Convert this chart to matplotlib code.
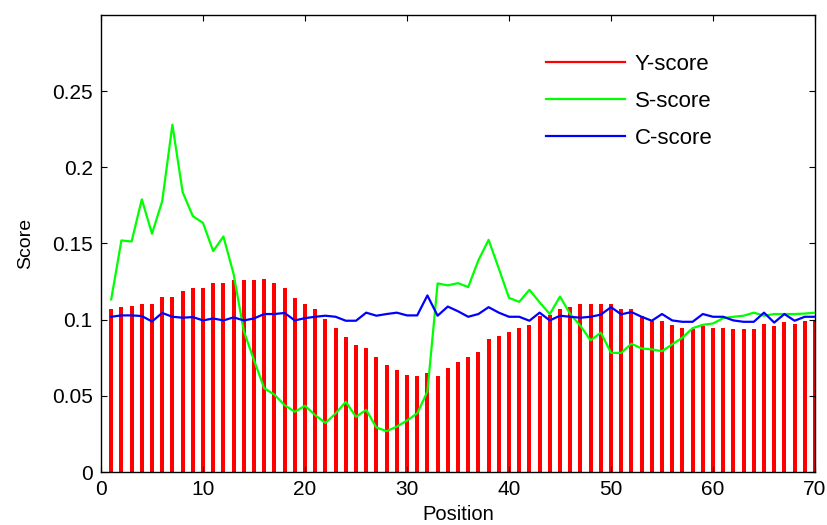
import matplotlib
matplotlib.use("Agg")
import matplotlib.pyplot as plt
import numpy as np

plt.rcParams['font.family'] = ['Liberation Sans', 'DejaVu Sans']

positions = list(range(1, 71))

y_score = [0.107, 0.108, 0.109, 0.110, 0.1105, 0.115, 0.115, 0.1185, 0.121, 0.121,
           0.124, 0.124, 0.126, 0.126, 0.126, 0.127, 0.124, 0.121, 0.114, 0.1105,
           0.107, 0.1006, 0.0946, 0.0886, 0.0833, 0.0813, 0.0754, 0.0705, 0.0672, 0.064,
           0.0628, 0.0652, 0.0628, 0.0685, 0.0725, 0.0752, 0.079, 0.087, 0.0895, 0.092,
           0.0946, 0.0966, 0.1026, 0.1033, 0.107, 0.1086, 0.1105, 0.110, 0.110, 0.1105,
           0.107, 0.107, 0.1026, 0.0993, 0.0993, 0.0966, 0.0946, 0.094, 0.096, 0.0946,
           0.0946, 0.094, 0.094, 0.094, 0.0973, 0.096, 0.0986, 0.0973, 0.0993, 0.100]

s_score = [0.1133, 0.152, 0.1513, 0.179, 0.1564, 0.1778, 0.228, 0.1838, 0.168, 0.1635,
           0.145, 0.1546, 0.130, 0.0926, 0.0734, 0.055, 0.0508, 0.0439, 0.0395, 0.0435,
           0.0373, 0.0322, 0.0384, 0.0461, 0.0362, 0.0408, 0.0292, 0.0268, 0.0298, 0.0338,
           0.0385, 0.0528, 0.1238, 0.1225, 0.124, 0.1214, 0.139, 0.1524, 0.1336, 0.1143,
           0.1117, 0.1196, 0.1114, 0.1037, 0.1152, 0.1037, 0.096, 0.0864, 0.0915, 0.0782,
           0.0782, 0.0842, 0.0811, 0.0805, 0.0793, 0.0838, 0.0882, 0.0944, 0.0966, 0.0975,
           0.101, 0.1019, 0.1026, 0.1046, 0.1026, 0.1037, 0.1037, 0.1037, 0.104, 0.1046]

c_score = [0.1019, 0.1028, 0.1028, 0.1024, 0.0988, 0.1044, 0.1019, 0.1013, 0.1017, 0.0995,
           0.1008, 0.0995, 0.1015, 0.0995, 0.1008, 0.1037, 0.1037, 0.1044, 0.0995, 0.101,
           0.1019, 0.1026, 0.1019, 0.0993, 0.0993, 0.1046, 0.1026, 0.1037, 0.1046, 0.1028,
           0.1028, 0.1159, 0.1026, 0.1086, 0.1055, 0.1019, 0.1037, 0.1082, 0.1046, 0.1019,
           0.1019, 0.0993, 0.1046, 0.0995, 0.1026, 0.1019, 0.1013, 0.1019, 0.1033, 0.1082,
           0.1035, 0.105, 0.1019, 0.0993, 0.1037, 0.0995, 0.0986, 0.0986, 0.1037, 0.1019,
           0.1019, 0.0995, 0.0986, 0.0986, 0.1046, 0.0981, 0.1037, 0.0993, 0.1019, 0.1019]

x_ticks = [0, 10, 20, 30, 40, 50, 60, 70]
x_tick_labels = ['0', '10', '20', '30', '40', '50', '60', '70']
y_ticks = [0, 0.05, 0.1, 0.15, 0.2, 0.25]
y_tick_labels = ['0', '0.05', '0.1', '0.15', '0.2', '0.25']

W, H = 828, 525
fig = plt.figure(figsize=(W / 100, H / 100), dpi=100)
ax = fig.add_axes([101 / W, (H - 472) / H, 714 / W, 457 / H])

ax.bar(positions, y_score, width=0.4, color='#ff0000', zorder=1)
ax.plot([], [], color='#ff0000', lw=1.6, label='Y-score')
ax.plot(positions, s_score, color='#00ff00', lw=1.6, label='S-score', zorder=3)
ax.plot(positions, c_score, color='#0000ff', lw=1.6, label='C-score', zorder=3)

ax.set_xlim(0, 70)
ax.set_ylim(0, 0.3)
ax.set_xticks(x_ticks)
ax.set_xticklabels(x_tick_labels)
ax.set_yticks(y_ticks)
ax.set_yticklabels(y_tick_labels)
ax.tick_params(direction='in', length=4, width=0.8, top=True, right=True,
               labelsize=15, colors='black')
ax.tick_params(axis='x', pad=6)
ax.tick_params(axis='y', pad=6)
for sp in ax.spines.values():
    sp.set_linewidth(1.0)

ax.set_xlabel('Position', fontsize=14.5, labelpad=4)
ax.set_ylabel('Score', fontsize=14, labelpad=13)

leg = ax.legend(loc='upper left', bbox_to_anchor=(0.595, 0.958), frameon=False,
                fontsize=16, handlelength=3.56, labelspacing=0.72, handletextpad=0.45)

fig.savefig('out.png', dpi=100)
